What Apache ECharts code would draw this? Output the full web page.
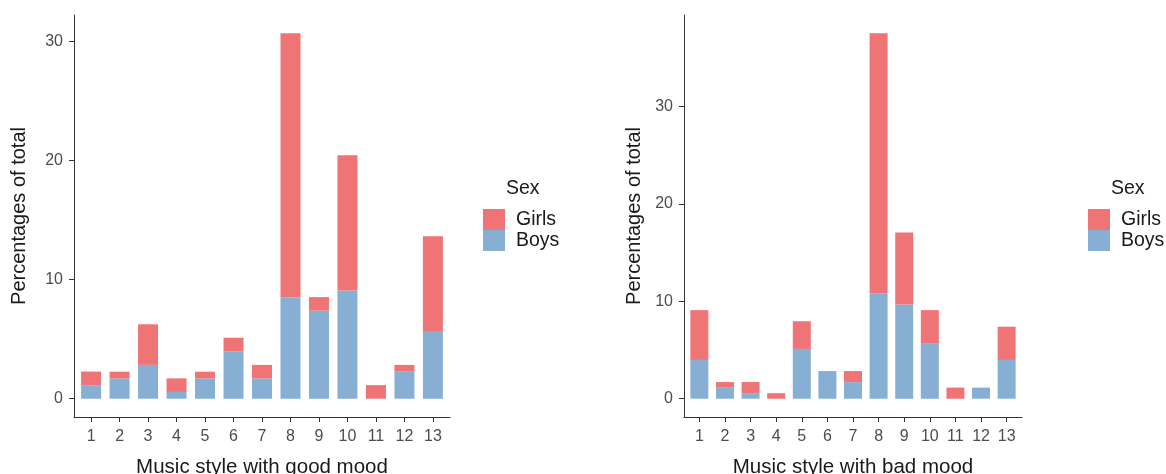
<!DOCTYPE html>
<html>
<head>
<meta charset="utf-8">
<script src="https://cdn.jsdelivr.net/npm/echarts@6/dist/echarts.min.js"></script>
<style>
html,body{margin:0;padding:0;background:#fff;}
#chart{width:1166px;height:474px;}
</style>
</head>
<body>
<div id="chart"></div>
<script>
// ---- data ----
var categories = ['1','2','3','4','5','6','7','8','9','10','11','12','13'];
var goodBoys  = [1.14,1.70,2.84,0.57,1.70,3.98,1.70,8.52,7.39,9.09,0,2.27,5.68];
var goodGirls = [1.14,0.57,3.41,1.14,0.57,1.14,1.14,22.16,1.14,11.36,1.14,0.57,7.95];
var badBoys   = [3.98,1.14,0.57,0,5.11,2.84,1.70,10.80,9.66,5.68,0,1.14,3.98];
var badGirls  = [5.11,0.57,1.14,0.57,2.84,0,1.14,26.70,7.39,3.41,1.14,0,3.41];
var yTicks = [0,10,20,30];
var legendNames = ['Girls','Boys'];
var legendTitle = 'Sex';
var yTitle = 'Percentages of total';
var xTitles = ['Music style with good mood','Music style with bad mood'];

var FONT = 'Liberation Sans, Arial, Helvetica, sans-serif';
var GIRL = '#EE7476', BOY = '#87AFD4';
var xPos = categories.map(function(c, i){ return i + 1; });

// value first, position second (so the library stacks on the value)
function pairs(vals){ return vals.map(function(v,i){ return [v, xPos[i]]; }); }
function yRange(boys, girls){
  var m = 0;
  for (var i=0;i<boys.length;i++){ m = Math.max(m, boys[i]+girls[i]); }
  return {min: -0.05*m, max: 1.05*m};
}
var gr = yRange(goodBoys, goodGirls), br = yRange(badBoys, badGirls);

function xAxis(idx, name){
  return {
    type:'value', gridIndex: idx, min: 0.4, max: categories.length + 0.6,
    name: name, nameLocation:'middle', nameGap: 40,
    nameTextStyle:{fontFamily:FONT,fontSize:20.5,color:'#1a1a1a'},
    axisLine:{show:true,onZero:false,lineStyle:{color:'#333',width:1}},
    axisTick:{show:true,length:5,lineStyle:{color:'#333'},customValues:xPos},
    axisLabel:{fontFamily:FONT,fontSize:16,color:'#4d4d4d',margin:12,
      customValues:xPos,
      formatter:function(v){ return categories[Math.round(v)-1]; }},
    splitLine:{show:false}
  };
}
function yAxis(idx, r, gap){
  return {
    type:'value', gridIndex: idx, min: r.min, max: r.max,
    name: yTitle, nameLocation:'middle', nameGap: gap,
    nameTextStyle:{fontFamily:FONT,fontSize:20,color:'#1a1a1a'},
    axisLine:{show:true,onZero:false,lineStyle:{color:'#333',width:1}},
    axisTick:{show:true,length:5,lineStyle:{color:'#333'},customValues:yTicks},
    axisLabel:{fontFamily:FONT,fontSize:16,color:'#4d4d4d',margin:11,customValues:yTicks},
    splitLine:{show:false}
  };
}
function bar(name, data, idx, color, w){
  return {
    type:'bar', name:name, xAxisIndex:idx, yAxisIndex:idx, stack:'s'+idx,
    encode:{x:1, y:0},
    data: pairs(data), barWidth: w, itemStyle:{color:color},
    emphasis:{disabled:true}
  };
}

var chart = echarts.init(document.getElementById('chart'), null, {renderer:'canvas'});
chart.setOption({
  animation:false,
  backgroundColor:'#fff',
  title:[
    {text:legendTitle,left:506,top:179,textStyle:{fontFamily:FONT,fontSize:19.5,fontWeight:'normal',color:'#1a1a1a'},padding:0},
    {text:legendTitle,left:1111,top:179,textStyle:{fontFamily:FONT,fontSize:19.5,fontWeight:'normal',color:'#1a1a1a'},padding:0}
  ],
  legend:[
    {data:legendNames,orient:'vertical',left:483,top:209,itemWidth:22,itemHeight:21,itemGap:0,padding:0,
     icon:'rect',textStyle:{fontFamily:FONT,fontSize:19.5,color:'#1a1a1a',padding:[0,0,0,6]}},
    {data:legendNames,orient:'vertical',left:1088,top:209,itemWidth:22,itemHeight:21,itemGap:0,padding:0,
     icon:'rect',textStyle:{fontFamily:FONT,fontSize:19.5,color:'#1a1a1a',padding:[0,0,0,6]}}
  ],
  grid:[
    {left:74,top:15,width:376,height:402,containLabel:false,outerBoundsMode:'none'},
    {left:684,top:15,width:338,height:402,containLabel:false,outerBoundsMode:'none'}
  ],
  xAxis:[xAxis(0,xTitles[0]), xAxis(1,xTitles[1])],
  yAxis:[yAxis(0,gr,45), yAxis(1,br,40)],
  series:[
    bar('Boys', goodBoys, 0, BOY, 20),
    bar('Girls', goodGirls, 0, GIRL, 20),
    bar('Boys', badBoys, 1, BOY, 18),
    bar('Girls', badGirls, 1, GIRL, 18)
  ]
});
</script>
</body>
</html>
